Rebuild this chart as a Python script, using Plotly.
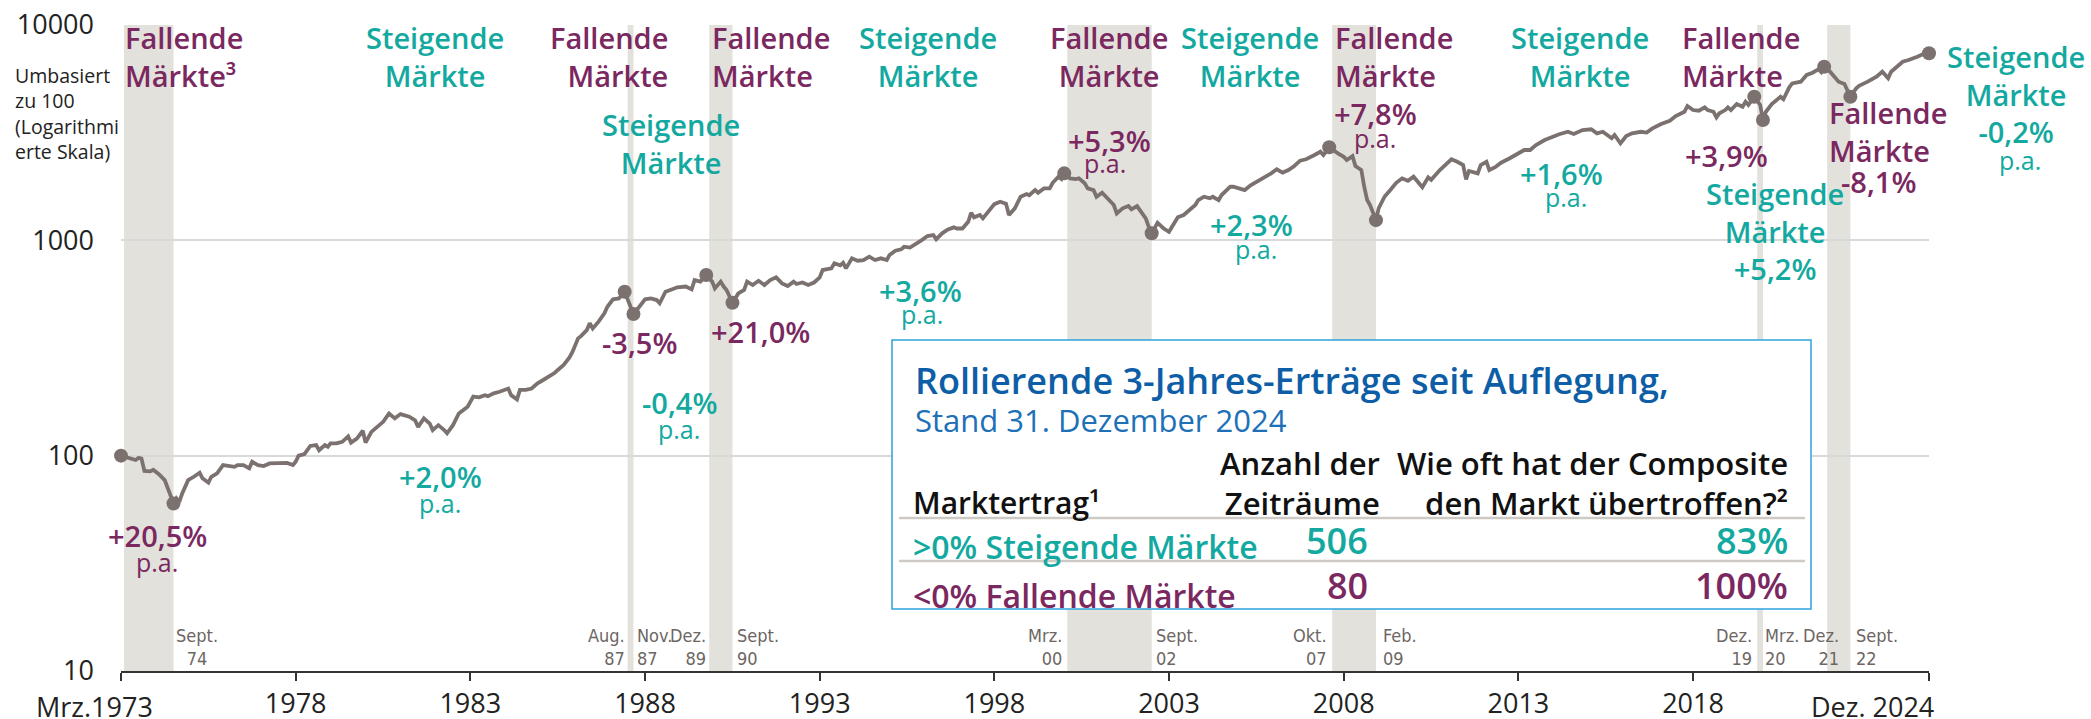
import plotly.graph_objects as go

# Monatswerte (umbasiert zu 100)
DATES = [
    "1973-03", "1973-06", "1973-08", "1973-09", "1973-10", "1973-11", "1974-01", "1974-02",
    "1974-04", "1974-06", "1974-07", "1974-09", "1974-10", "1974-11", "1974-12", "1975-02",
    "1975-04", "1975-06", "1975-07", "1975-09", "1975-10", "1975-12", "1976-02", "1976-03",
    "1976-06", "1976-07", "1976-09", "1976-11", "1976-12", "1977-02", "1977-04", "1977-06",
    "1977-09", "1977-10", "1977-12", "1978-02", "1978-03", "1978-04", "1978-06", "1978-08",
    "1978-10", "1978-11", "1979-01", "1979-02", "1979-03", "1979-05", "1979-07", "1979-09",
    "1979-10", "1979-12", "1980-02", "1980-03", "1980-05", "1980-07", "1980-09", "1980-11",
    "1981-01", "1981-03", "1981-06", "1981-08", "1981-09", "1981-11", "1982-01", "1982-02",
    "1982-04", "1982-06", "1982-07", "1982-09", "1982-11", "1983-02", "1983-04", "1983-06",
    "1983-08", "1983-09", "1983-11", "1984-01", "1984-04", "1984-05", "1984-07", "1984-08",
    "1984-10", "1984-12", "1985-02", "1985-04", "1985-06", "1985-08", "1985-09", "1985-11",
    "1986-01", "1986-02", "1986-04", "1986-05", "1986-07", "1986-08", "1986-09", "1986-11",
    "1987-01", "1987-02", "1987-04", "1987-06", "1987-08", "1987-09", "1987-11", "1988-01",
    "1988-03", "1988-05", "1988-07", "1988-08", "1988-10", "1989-01", "1989-02", "1989-05",
    "1989-07", "1989-08", "1989-10", "1989-12", "1990-02", "1990-03", "1990-05", "1990-06",
    "1990-07", "1990-09", "1990-11", "1991-01", "1991-02", "1991-04", "1991-06", "1991-08",
    "1991-10", "1991-12", "1992-02", "1992-04", "1992-06", "1992-07", "1992-09", "1992-11",
    "1993-01", "1993-03", "1993-04", "1993-07", "1993-08", "1993-10", "1993-11", "1993-12",
    "1994-02", "1994-04", "1994-06", "1994-08", "1994-10", "1994-12", "1995-02", "1995-03",
    "1995-05", "1995-07", "1995-08", "1995-10", "1995-12", "1996-02", "1996-04", "1996-06",
    "1996-07", "1996-09", "1996-11", "1997-01", "1997-02", "1997-04", "1997-06", "1997-07",
    "1997-08", "1997-10", "1997-11", "1998-01", "1998-03", "1998-05", "1998-07", "1998-08",
    "1998-10", "1998-12", "1999-02", "1999-03", "1999-05", "1999-06", "1999-08", "1999-10",
    "1999-11", "2000-01", "2000-02", "2000-03", "2000-05", "2000-07", "2000-08", "2000-10",
    "2000-11", "2001-01", "2001-02", "2001-04", "2001-06", "2001-08", "2001-09", "2001-11",
    "2002-01", "2002-02", "2002-04", "2002-05", "2002-07", "2002-08", "2002-09", "2002-11",
    "2003-01", "2003-03", "2003-05", "2003-06", "2003-08", "2003-10", "2003-12", "2004-01",
    "2004-03", "2004-05", "2004-06", "2004-08", "2004-09", "2004-12", "2005-01", "2005-03",
    "2005-05", "2005-07", "2005-09", "2005-11", "2006-02", "2006-04", "2006-06", "2006-08",
    "2006-10", "2006-12", "2007-02", "2007-05", "2007-07", "2007-08", "2007-10", "2008-01",
    "2008-03", "2008-04", "2008-06", "2008-07", "2008-09", "2008-10", "2008-11", "2008-12",
    "2009-01", "2009-02", "2009-03", "2009-05", "2009-07", "2009-09", "2009-11", "2010-01",
    "2010-03", "2010-04", "2010-06", "2010-08", "2010-09", "2010-12", "2011-02", "2011-04",
    "2011-06", "2011-08", "2011-09", "2011-10", "2012-01", "2012-02", "2012-04", "2012-05",
    "2012-07", "2012-09", "2012-12", "2013-03", "2013-05", "2013-07", "2013-09", "2013-12",
    "2014-02", "2014-05", "2014-08", "2014-10", "2015-01", "2015-04", "2015-06", "2015-08",
    "2015-11", "2015-12", "2016-02", "2016-04", "2016-06", "2016-09", "2016-11", "2017-01",
    "2017-04", "2017-07", "2017-09", "2017-12", "2018-01", "2018-03", "2018-05", "2018-07",
    "2018-08", "2018-10", "2018-11", "2018-12", "2019-02", "2019-03", "2019-04", "2019-06",
    "2019-08", "2019-09", "2019-10", "2019-12", "2020-02", "2020-03", "2020-04", "2020-06",
    "2020-09", "2020-10", "2020-12", "2021-01", "2021-04", "2021-06", "2021-08", "2021-10",
    "2021-11", "2021-12", "2022-02", "2022-04", "2022-05", "2022-07", "2022-08", "2022-09",
    "2022-11", "2022-12", "2023-03", "2023-04", "2023-06", "2023-08", "2023-10", "2023-11",
    "2024-01", "2024-03", "2024-05", "2024-07", "2024-08", "2024-11", "2024-12",
]
VALUES = [
    100, 97, 95.5, 97.7, 97, 85, 84.5, 86,
    82, 77, 70.5, 60, 63.4, 61, 66.8, 77,
    79.8, 83.3, 78.5, 74.9, 79.8, 82.8, 90.4, 90,
    88.8, 90.4, 90.4, 87.3, 93.7, 90.4, 89.5, 92,
    92, 92.7, 92.5, 90.4, 93.7, 100, 101.7, 111,
    112, 106, 112, 110, 114, 114, 116, 123,
    115, 120, 130.5, 115, 129, 136, 143.6, 157,
    149, 156, 151.7, 146, 136, 149, 141, 131.5,
    138.6, 131.5, 127, 138.6, 157, 168.6, 188, 186.6,
    191, 189, 194.6, 198, 205, 191, 182.5, 202,
    202, 205, 216.6, 224.6, 232.6, 242.7, 250, 263.8,
    286, 303, 350.6, 359, 383, 411.7, 390, 419,
    458, 491.5, 532, 537, 577, 532, 455, 491.5,
    532, 537, 528, 510, 577, 598, 605, 610,
    592, 654, 643, 690, 643, 598, 643, 610,
    588, 513, 567, 588, 643, 620, 649, 620,
    654, 673, 631, 614, 643, 627, 637, 620,
    637, 673, 728, 741, 782, 765, 787, 741,
    825, 804, 810, 840, 810, 825, 810, 855,
    895, 908, 934, 925, 968, 1003, 1047, 1058,
    1011, 1078, 1124, 1149, 1135, 1135, 1220, 1343,
    1279, 1310, 1265, 1358, 1473, 1510, 1480, 1311,
    1408, 1594, 1641, 1620, 1712, 1664, 1742, 1742,
    1850, 1975, 1925, 2047, 1940, 1925, 1940, 1840,
    1742, 1712, 1594, 1664, 1567, 1459, 1334, 1408,
    1443, 1393, 1443, 1383, 1265, 1156, 1078, 1207,
    1138, 1096, 1220, 1279, 1311, 1383, 1459, 1538,
    1594, 1567, 1594, 1538, 1623, 1774, 1774, 1744,
    1712, 1800, 1871, 1921, 2047, 2138, 2063, 2120,
    2215, 2345, 2378, 2490, 2579, 2490, 2706, 2534,
    2444, 2359, 2460, 2215, 2121, 1774, 1538, 1459,
    1358, 1241, 1408, 1594, 1712, 1850, 1940, 1890,
    1975, 1910, 1763, 1960, 1910, 2121, 2238, 2378,
    2315, 2238, 1921, 2100, 2047, 2238, 2317, 2121,
    2185, 2294, 2405, 2534, 2627, 2627, 2771, 2923,
    3000, 3110, 3193, 3117, 3253, 3278, 3140, 3193,
    2978, 3085, 2820, 3051, 3140, 3193, 3165, 3311,
    3467, 3593, 3779, 3955, 4206, 4028, 4000, 4147,
    4028, 3955, 3727, 3890, 4028, 4147, 4028, 4297,
    4170, 4405, 4250, 4645, 4250, 3622, 3955, 4297,
    4645, 4519, 5135, 5357, 5455, 5865, 6006, 6226,
    6040, 6402, 6070, 5654, 5455, 5323, 4990, 4645,
    5080, 5213, 5455, 5559, 5754, 6070, 5654, 6070,
    6451, 6755, 6874, 7000, 7128, 7436, 7389,
]

# Hoch-/Tiefpunkte mit Punktmarkierung
MARKER_DATES = [
    "1973-03", "1974-09", "1987-08", "1987-11", "1989-12", "1990-09", "2000-03",
    "2002-09", "2007-10", "2009-02", "2019-12", "2020-03", "2021-12", "2022-09", "2024-12",
]

# Fallende Märkte (graue Bänder)
BAND_START = ["1973-04", "1987-09", "1990-01", "2000-04", "2007-11", "2020-01", "2022-01"]
BAND_END = ["1974-09", "1987-11", "1990-09", "2002-09", "2009-02", "2020-03", "2022-09"]

TICK_DATES = ["1973-03", "1978-03", "1983-03", "1988-03", "1993-03", "1998-03",
              "2003-03", "2008-03", "2013-03", "2018-03", "2024-12"]
TICK_TEXT = ["", "1978", "1983", "1988", "1993", "1998", "2003", "2008", "2013", "2018", ""]
Y_TICKS = [10, 100, 1000, 10000]

TABLE_ROWS = [">0% Steigende Märkte", "&lt;0% Fallende Märkte"]
TABLE_COUNTS = [506, 80]
TABLE_SHARE = ["83%", "100%"]

PURPLE = "#7a285f"
TEAL = "#13a9a0"
LINE = "#7b7270"
BAND = "#e3e1dc"
GRID = "#d9d9d9"
DATE_GRAY = "#6d6663"
TITLE_BLUE = "#0d5ea6"
SUB_BLUE = "#2070b8"
BOX_BLUE = "#2ea3dd"
FONT = "Open Sans, Lato, sans-serif"
NARROW = "DejaVu Sans Condensed, Open Sans, sans-serif"

W_FIG, H_FIG = 2091, 719
X0, X1, Y0, Y1 = 121, 1929, 25, 671          # Plotfläche in Pixeln
L, T, R, B = X0, Y0, W_FIG - X1, H_FIG - Y1


def px(x):
    return (x - X0) / (X1 - X0)


def py(y):
    return 1 - (y - Y0) / (Y1 - Y0)


def note(text, x, y, color, size=29, weight=600, anchor="center", family=FONT):
    return dict(
        text=text, x=px(x), y=py(y), xref="paper", yref="paper",
        xanchor=anchor, yanchor="middle", align=anchor, showarrow=False,
        font=dict(family=family, size=size, color=color, weight=weight),
    )


lookup = dict(zip(DATES, VALUES))

fig = go.Figure()
fig.add_trace(go.Scatter(
    x=DATES, y=VALUES, mode="lines",
    line=dict(color=LINE, width=3.8), hoverinfo="skip", showlegend=False,
))
fig.add_trace(go.Scatter(
    x=MARKER_DATES, y=[lookup[d] for d in MARKER_DATES], mode="markers",
    marker=dict(color=LINE, size=14), cliponaxis=False, showlegend=False,
))

shapes = []
for s, e in zip(BAND_START, BAND_END):
    shapes.append(dict(type="rect", xref="x", yref="paper", x0=s, x1=e, y0=0, y1=1,
                       fillcolor=BAND, line=dict(width=0), layer="between"))

# Tabelle
shapes.append(dict(type="rect", xref="paper", yref="paper", x0=px(892), x1=px(1811),
                   y0=py(609), y1=py(340), fillcolor="white",
                   line=dict(color=BOX_BLUE, width=1.5), layer="above"))
for yy in (518, 561):
    shapes.append(dict(type="line", xref="paper", yref="paper", x0=px(899), x1=px(1805),
                       y0=py(yy), y1=py(yy), line=dict(color="#cdc9c4", width=2.5),
                       layer="above"))

ann = []
# Markt-Phasen
top = [
    ("Fallende<br>Märkte³", 123, 56.5, PURPLE, "left"),
    ("Steigende<br>Märkte", 435, 56.5, TEAL, "center"),
    ("Fallende<br>Märkte", 670, 56.5, PURPLE, "right"),
    ("Steigende<br>Märkte", 671, 143.5, TEAL, "center"),
    ("Fallende<br>Märkte", 710, 56.5, PURPLE, "left"),
    ("Steigende<br>Märkte", 928, 56.5, TEAL, "center"),
    ("Fallende<br>Märkte", 1109, 56.5, PURPLE, "center"),
    ("Steigende<br>Märkte", 1250, 56.5, TEAL, "center"),
    ("Fallende<br>Märkte", 1333, 56.5, PURPLE, "left"),
    ("Steigende<br>Märkte", 1580, 56.5, TEAL, "center"),
    ("Fallende<br>Märkte", 1680, 56.5, PURPLE, "left"),
    ("Steigende<br>Märkte<br>-0,2%", 2016, 94, TEAL, "center"),
    ("Fallende<br>Märkte", 1827, 131.5, PURPLE, "left"),
    ("-8,1%", 1878, 181, PURPLE, "center"),
    ("Steigende<br>Märkte<br>+5,2%", 1775, 231, TEAL, "center"),
    ("+3,9%", 1726, 155, PURPLE, "center"),
    ("+1,6%", 1561, 173, TEAL, "center"),
    ("+7,8%", 1375, 113, PURPLE, "center"),
    ("+5,3%", 1109, 140, PURPLE, "center"),
    ("+2,3%", 1251, 224, TEAL, "center"),
    ("+3,6%", 920, 290, TEAL, "center"),
    ("+21,0%", 760, 332, PURPLE, "center"),
    ("-3,5%", 639, 342, PURPLE, "center"),
    ("-0,4%", 679, 402, TEAL, "center"),
    ("+2,0%", 440, 476, TEAL, "center"),
    ("+20,5%", 157, 535, PURPLE, "center"),
]
for t, x, y, c, a in top:
    ann.append(note(t, x, y, c, anchor=a))

pa = [(2020, 160, TEAL), (1566, 197, TEAL), (1375, 138, PURPLE), (1105, 163, PURPLE),
      (1256, 249, TEAL), (922, 314, TEAL), (679, 429, TEAL), (440, 503, TEAL),
      (157, 562, PURPLE)]
for x, y, c in pa:
    ann.append(note("p.a.", x, y, c, size=25, weight=400))

# Datumsmarken an den Bändern
dates_lbl = [
    ("Sept.<br>74", 197, "center"), ("Aug.<br>87", 627, "right"), ("Nov.<br>87", 635, "left"),
    ("Dez.<br>89", 708, "right"), ("Sept.<br>90", 735, "left"), ("Mrz.<br>00", 1064, "right"),
    ("Sept.<br>02", 1154, "left"), ("Okt.<br>07", 1329, "right"), ("Feb.<br>09", 1381, "left"),
    ("Dez.<br>19", 1754, "right"), ("Mrz.<br>20", 1763, "left"), ("Dez.<br>21", 1841, "right"),
    ("Sept.<br>22", 1854, "left"),
]
for t, x, a in dates_lbl:
    ann.append(note(t, x, 647, DATE_GRAY, size=18, weight=400, anchor=a, family=NARROW))

# Achsenbeschriftungen
ann.append(note("Umbasiert<br>zu 100<br>(Logarithmi<br>erte Skala)", 13, 113, "#222",
                size=19.5, weight=400, anchor="left"))
ann.append(note("Mrz.1973", 94, 706, "#222", size=27, weight=400))
ann.append(note("Dez. 2024", 1936, 706, "#222", size=27, weight=400, anchor="right"))

# Tabelle Text
ann.append(note("Rollierende 3-Jahres-Erträge seit Auflegung,", 913, 380, TITLE_BLUE,
                size=36, anchor="left"))
ann.append(note("Stand 31. Dezember 2024", 913, 420, SUB_BLUE, size=31, weight=400,
                anchor="left"))
ann.append(note("Anzahl der<br>Zeiträume", 1382, 482.5, "#111", size=31, anchor="right"))
ann.append(note("Marktertrag¹", 911, 502, "#111", size=30, anchor="left"))
ann.append(note("Wie oft hat der Composite<br>den Markt übertroffen?²", 1790, 482.5, "#111",
                size=31, anchor="right"))
for i, (lbl, cnt, share) in enumerate(zip(TABLE_ROWS, TABLE_COUNTS, TABLE_SHARE)):
    c = TEAL if i == 0 else PURPLE
    yl, yn = (546, 540) if i == 0 else (595, 585)
    ann.append(note(lbl, 911, yl, c, size=32, anchor="left"))
    ann.append(note(str(cnt), 1370, yn, c, size=36, weight=600, anchor="right"))
    ann.append(note(share, 1790, yn, c, size=36, weight=600, anchor="right"))

fig.update_layout(
    width=W_FIG, height=H_FIG,
    margin=dict(l=L, r=R, t=T, b=B),
    paper_bgcolor="white", plot_bgcolor="white",
    showlegend=False,
    shapes=shapes, annotations=ann,
    font=dict(family=FONT, color="#222"),
    xaxis=dict(
        type="date", range=["1973-03-01", "2024-12-01"],
        tickvals=TICK_DATES, ticktext=TICK_TEXT,
        showgrid=False, zeroline=False, automargin=False,
        showline=True, linecolor="#333", linewidth=2,
        ticks="outside", ticklen=8, tickwidth=1.5, tickcolor="#333",
        tickfont=dict(size=27, color="#222"),
    ),
    yaxis=dict(
        type="log", range=[1, 4],
        tickvals=Y_TICKS, ticktext=[str(v) for v in Y_TICKS],
        showgrid=True, gridcolor=GRID, gridwidth=1.5, automargin=False,
        zeroline=False, showline=False, ticks="",
        ticklabelstandoff=26,
        tickfont=dict(size=27, color="#222"),
    ),
)

# Seitenrand entfernen, damit die Grafik exakt das Fenster füllt
fig.write_html("out.html", config={"displayModeBar": False},
               post_script="document.body.style.margin='0px';")
